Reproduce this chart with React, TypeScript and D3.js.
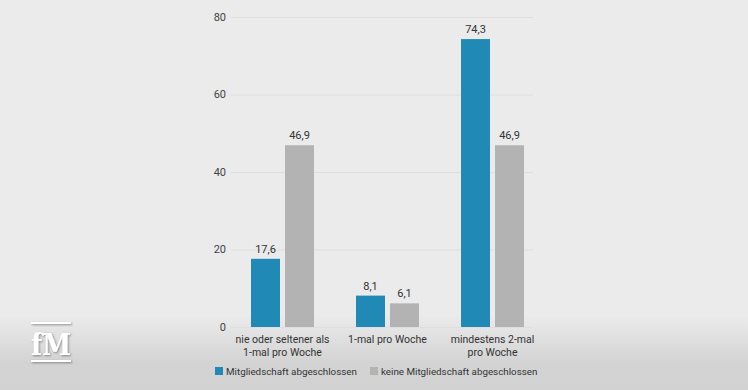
import * as d3 from "d3";
import { useEffect, useRef } from "react";

const categories = [
  ["nie oder seltener als", "1-mal pro Woche"],
  ["1-mal pro Woche"],
  ["mindestens 2-mal", "pro Woche"],
];
const seriesNames = ["Mitgliedschaft abgeschlossen", "keine Mitgliedschaft abgeschlossen"];
const mitglied = [17.6, 8.1, 74.3];
const keineMitglied = [46.9, 6.1, 46.9];
const yTicks = [0, 20, 40, 60, 80];
const colors = ["#2189b5", "#b4b3b3"];

const W = 748;
const H = 390;

const App = () => {
  const ref = useRef<SVGSVGElement>(null);

  useEffect(() => {
    const svg = d3.select(ref.current);
    svg.selectAll("*").remove();

    const font = "Roboto, 'Open Sans', sans-serif";

    // hintergrund mit verlauf unten
    const defs = svg.append("defs");
    const grad = defs.append("linearGradient").attr("id", "bg").attr("x1", 0).attr("y1", 0).attr("x2", 0).attr("y2", 1);
    grad.append("stop").attr("offset", "0%").attr("stop-color", "#ebebeb");
    grad.append("stop").attr("offset", "81%").attr("stop-color", "#ebebeb");
    grad.append("stop").attr("offset", "93%").attr("stop-color", "#d3d3d3");
    grad.append("stop").attr("offset", "100%").attr("stop-color", "#d2d2d2");
    const shadow = defs.append("filter").attr("id", "sh").attr("x", "-20%").attr("y", "-20%").attr("width", "140%").attr("height", "140%");
    shadow.append("feDropShadow").attr("dx", 1).attr("dy", 1).attr("stdDeviation", 1.2).attr("flood-color", "#000").attr("flood-opacity", 0.4);

    svg.append("rect").attr("width", W).attr("height", H).attr("fill", "url(#bg)");

    const labels = categories.map((c) => c.join(" "));
    const x0 = d3.scaleBand().domain(labels).range([230, 545]).paddingInner(0.4).paddingOuter(0.2);
    const x1 = d3.scaleBand().domain(seriesNames).range([0, x0.bandwidth()]).paddingInner(0.147);
    const y = d3.scaleLinear().domain([0, 80]).range([327, 17]);

    // gitterlinien
    svg.append("g")
      .selectAll("line")
      .data(yTicks)
      .enter()
      .append("line")
      .attr("x1", 231)
      .attr("x2", 533)
      .attr("y1", (d) => y(d) + 0.5)
      .attr("y2", (d) => y(d) + 0.5)
      .attr("stroke", "#dedede")
      .attr("stroke-width", 1);

    svg.append("g")
      .selectAll("text")
      .data(yTicks)
      .enter()
      .append("text")
      .attr("x", 226)
      .attr("y", (d) => y(d))
      .attr("dy", "0.35em")
      .attr("text-anchor", "end")
      .attr("font-family", font)
      .attr("font-size", 11)
      .attr("fill", "#444")
      .text((d) => d);

    const data = labels.map((l, i) => ({ label: l, values: [mitglied[i], keineMitglied[i]] }));

    const groups = svg.append("g")
      .selectAll("g")
      .data(data)
      .enter()
      .append("g")
      .attr("transform", (d) => `translate(${x0(d.label)},0)`);

    groups.selectAll("rect")
      .data((d) => d.values.map((v, i) => ({ v, s: seriesNames[i], i })))
      .enter()
      .append("rect")
      .attr("x", (d) => x1(d.s)!)
      .attr("y", (d) => y(d.v))
      .attr("width", x1.bandwidth())
      .attr("height", (d) => y(0) - y(d.v))
      .attr("fill", (d) => colors[d.i]);

    groups.selectAll("text")
      .data((d) => d.values.map((v, i) => ({ v, s: seriesNames[i] })))
      .enter()
      .append("text")
      .attr("x", (d) => x1(d.s)! + x1.bandwidth() / 2)
      .attr("y", (d) => y(d.v) - 6)
      .attr("text-anchor", "middle")
      .attr("font-family", font)
      .attr("font-size", 11)
      .attr("fill", "#333")
      .text((d) => d3.format(".1f")(d.v).replace(".", ","));

    // kategorien
    categories.forEach((lines, i) => {
      const cx = x0(labels[i])! + x0.bandwidth() / 2;
      const t = svg.append("text")
        .attr("x", cx)
        .attr("y", 343)
        .attr("text-anchor", "middle")
        .attr("font-family", font)
        .attr("font-size", 10.5)
        .attr("fill", "#333");
      lines.forEach((ln, j) => {
        t.append("tspan").attr("x", cx).attr("dy", j === 0 ? 0 : 13).text(ln);
      });
    });

    // legende
    const legendX = [215, 370];
    seriesNames.forEach((s, i) => {
      svg.append("rect").attr("x", legendX[i]).attr("y", 367).attr("width", 8).attr("height", 8).attr("fill", colors[i]);
      svg.append("text")
        .attr("x", legendX[i] + 11)
        .attr("y", 374.5)
        .attr("font-family", font)
        .attr("font-size", 9.8)
        .attr("fill", "#333")
        .text(s);
    });

    // logo
    const logo = svg.append("g").attr("filter", "url(#sh)");
    logo.append("rect").attr("x", 31).attr("y", 322).attr("width", 40).attr("height", 2).attr("fill", "#fff");
    logo.append("rect").attr("x", 31).attr("y", 360).attr("width", 40).attr("height", 2).attr("fill", "#fff");
    logo.append("text")
      .attr("x", 51)
      .attr("y", 355)
      .attr("text-anchor", "middle")
      .attr("font-family", "'DejaVu Serif', serif")
      .attr("font-weight", "bold")
      .attr("font-size", 30)
      .attr("textLength", 40)
      .attr("lengthAdjust", "spacingAndGlyphs")
      .attr("fill", "#fff")
      .text("fM");
  }, []);

  return (
    <svg
      ref={ref}
      width={W}
      height={H}
      style={{ position: "absolute", left: 0, top: 0, display: "block" }}
    ></svg>
  );
};

export default App;
